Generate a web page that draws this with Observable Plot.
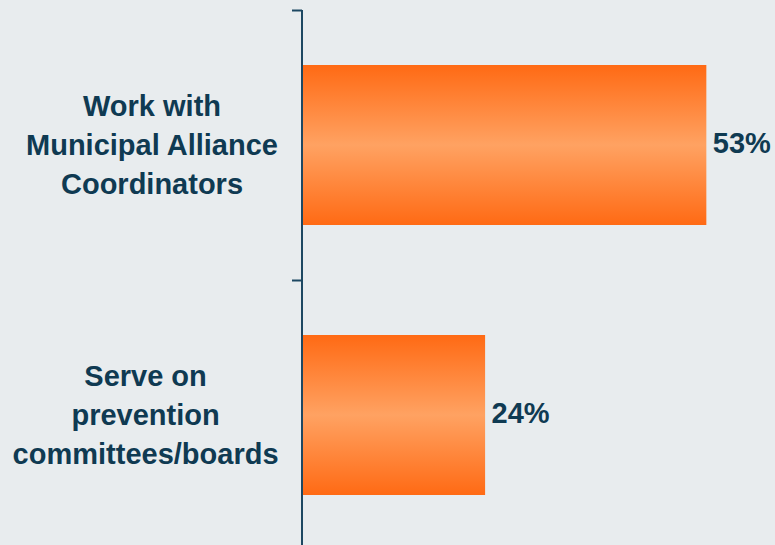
<!DOCTYPE html>
<html>
<head>
<meta charset="utf-8">
<script src="https://cdn.jsdelivr.net/npm/d3@7"></script>
<script src="https://cdn.jsdelivr.net/npm/@observablehq/plot@0.6"></script>
<style>
  html, body { margin: 0; padding: 0; background: #e8ecee; }
  #chart { width: 775px; height: 545px; overflow: hidden; }
</style>
</head>
<body>
<div id="chart"></div>
<script>
const categories = ["Work with\nMunicipal Alliance\nCoordinators", "Serve on\nprevention\ncommittees/boards"];
const values = [53, 24];
const valueLabels = ["53%", "24%"];
const bandEdges = [0, 1, 2];

const data = categories.map((c, i) => ({
  category: c, value: values[i], label: valueLabels[i],
  y1: i, y2: i + 1, ym: i + 0.5
}));

const ink = "#0f3a52";
const fontFamily = "'Liberation Sans', Arial, sans-serif";
const labelSize = 29;

// Each label block: lines centred on each other, block right edge 24px left of the axis
const ctx = document.createElement("canvas").getContext("2d");
ctx.font = `bold ${labelSize}px ${fontFamily}`;
const blockWidth = s => d3.max(s.split("\n"), l => ctx.measureText(l).width);

const labelMarks = data.map(d =>
  Plot.text([d], { x: 0, y: "ym", text: "category", dx: -24 - blockWidth(d.category) / 2, dy: -3,
    textAnchor: "middle", lineAnchor: "middle", lineHeight: 1.34, fontSize: labelSize, fontWeight: "bold", fill: ink })
);

const chart = Plot.plot({
  width: 775,
  height: 545,
  marginLeft: 302,
  marginRight: 0,
  marginTop: 10,
  marginBottom: 0,
  x: { type: "linear", domain: [0, 62], range: [302, 775], axis: null },
  y: { type: "linear", domain: [0, 2], range: [10, 550], axis: null },
  style: { background: "#e8ecee", fontFamily, overflow: "hidden" },
  marks: [
    Plot.rectX(data, { x1: 0, x2: "value", y1: "y1", y2: "y2", insetTop: 55, insetBottom: 55, fill: "url(#barGrad)" }),
    Plot.ruleX([0], { stroke: "#1d4862", strokeWidth: 2, dx: -0.5 }),
    Plot.axisY({ ticks: bandEdges, tickSize: 10, tickFormat: () => "", label: null, stroke: "#1d4862", strokeWidth: 2, anchor: "left" }),
    ...labelMarks,
    Plot.text(data, { x: "value", y: "ym", text: "label", dx: 6, dy: -2, textAnchor: "start", fontSize: labelSize, fontWeight: "bold", fill: ink })
  ]
});

d3.select(chart).insert("defs", ":first-child").html(`
  <linearGradient id="barGrad" x1="0" y1="0" x2="0" y2="1">
    <stop offset="0" stop-color="#ff6a14"/>
    <stop offset="0.5" stop-color="#ffa262"/>
    <stop offset="1" stop-color="#ff6a14"/>
  </linearGradient>`);
document.getElementById("chart").appendChild(chart);
</script>
</body>
</html>
